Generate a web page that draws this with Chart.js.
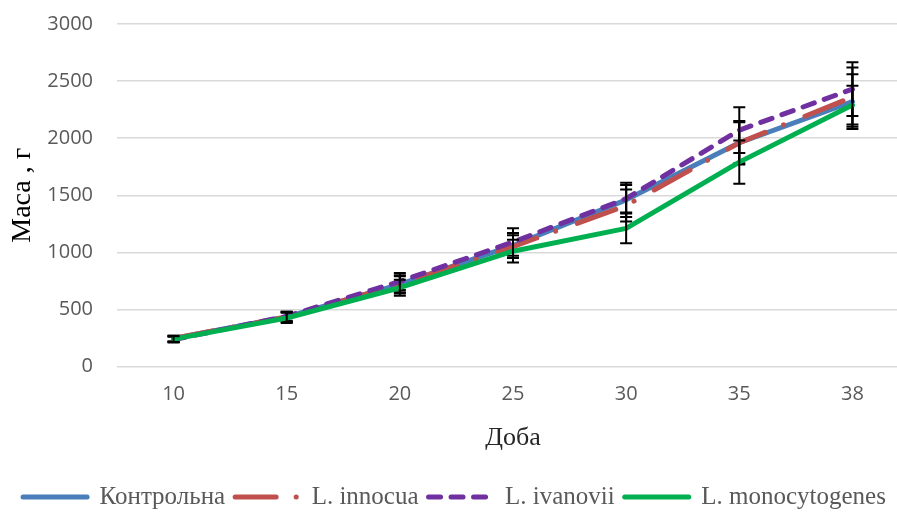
<!DOCTYPE html>
<html>
<head>
<meta charset="utf-8">
<script src="https://cdn.jsdelivr.net/npm/chart.js@4.4.1/dist/chart.umd.min.js"></script>
<style>
    html, body { margin: 0; padding: 0; background: #fff; overflow: hidden; }
    #wrap { width: 917px; height: 515px; }
</style>
</head>
<body>
<div id="wrap"><canvas id="massChart"></canvas></div>
<script>
// days of observation
var days = ['10', '15', '20', '25', '30', '35', '38'];

// mean mass, g
var control = [245, 435, 720, 1060, 1460, 1960, 2320];
var innocua = [245, 435, 720, 1050, 1410, 1960, 2360];
var ivanovii = [235, 440, 745, 1090, 1470, 2070, 2430];
var monocytogenes = [240, 425, 690, 1010, 1210, 1790, 2290];

// +/- error, g
var controlErr = [25, 40, 70, 110, 150, 190, 240];
var innocuaErr = [25, 45, 80, 100, 140, 180, 260];
var ivanoviiErr = [25, 40, 75, 120, 120, 200, 235];
var monocytogenesErr = [25, 45, 70, 100, 130, 190, 170];

var yTicks = [0, 500, 1000, 1500, 2000, 2500, 3000];

var errors = [controlErr, innocuaErr, ivanoviiErr, monocytogenesErr];

// draws the error bars of each series right after the series itself
var errorBars = {
    id: 'errorBars',
    afterDatasetDraw: function(chart, args) {
        var i = args.index;
        var ds = chart.data.datasets[i];
        var err = errors[i];
        var x = chart.scales.x;
        var y = chart.scales.y;
        var ctx = chart.ctx;
        ctx.save();
        ctx.strokeStyle = '#000';
        ctx.lineWidth = 2;
        ctx.setLineDash([]);
        ds.data.forEach(function(v, j) {
            var px = x.getPixelForValue(j);
            var top = y.getPixelForValue(v + err[j]);
            var bot = y.getPixelForValue(v - err[j]);
            ctx.beginPath();
            ctx.moveTo(px, top);
            ctx.lineTo(px, bot);
            ctx.moveTo(px - 6, top);
            ctx.lineTo(px + 6, top);
            ctx.moveTo(px - 6, bot);
            ctx.lineTo(px + 6, bot);
            ctx.stroke();
        });
        ctx.restore();
    }
};

var ctx = document.getElementById('massChart');

var chart = new Chart(ctx, {
    type: 'line',
    data: {
        labels: days,
        datasets: [{
            label: 'Контрольна',
            data: control,
            borderColor: '#4A7EBB',
            backgroundColor: '#4A7EBB',
            borderWidth: 5,
            borderCapStyle: 'round',
            order: 4
        }, {
            label: 'L. innocua',
            data: innocua,
            borderColor: '#C0504D',
            backgroundColor: '#C0504D',
            borderWidth: 5,
            borderCapStyle: 'round',
            borderDash: [41, 20, 0.1, 23],
            order: 3
        }, {
            label: 'L. ivanovii',
            data: ivanovii,
            borderColor: '#7030A0',
            backgroundColor: '#7030A0',
            borderWidth: 5,
            borderCapStyle: 'round',
            borderDash: [12, 10.5],
            order: 2
        }, {
            label: 'L. monocytogenes',
            data: monocytogenes,
            borderColor: '#00B050',
            backgroundColor: '#00B050',
            borderWidth: 5,
            borderCapStyle: 'round',
            order: 1
        }]
    },
    options: {
        responsive: true,
        maintainAspectRatio: false,
        animation: false,
        layout: {
            padding: { top: 24, left: 0, right: 8, bottom: -4.5 }
        },
        elements: {
            point: { radius: 0, hoverRadius: 0 },
            line: { tension: 0, borderJoinStyle: 'round' }
        },
        plugins: {
            tooltip: { enabled: false },
            legend: {
                position: 'bottom',
                labels: {
                    usePointStyle: true,
                    pointStyleWidth: 64,
                    padding: 10,
                    color: '#595959',
                    font: { family: '"Liberation Serif", "Times New Roman", serif', size: 25 },
                    generateLabels: function(chart) {
                        return chart.data.datasets.map(function(ds, i) {
                            return {
                                text: ds.label,
                                strokeStyle: ds.borderColor,
                                fillStyle: ds.borderColor,
                                lineWidth: 5,
                                lineDash: ds.borderDash || [],
                                lineCap: 'round',
                                pointStyle: 'line',
                                rotation: 180,
                                fontColor: '#595959',
                                hidden: false,
                                datasetIndex: i
                            };
                        });
                    }
                }
            }
        },
        scales: {
            x: {
                offset: true,
                grid: { display: false, drawTicks: false },
                border: { display: false },
                ticks: {
                    padding: 16,
                    color: '#595959',
                    font: { family: '"Open Sans", sans-serif', size: 20 }
                },
                title: {
                    display: true,
                    text: 'Доба',
                    color: '#262626',
                    padding: { top: 10, bottom: 21 },
                    font: { family: '"Liberation Serif", "Times New Roman", serif', size: 26 }
                },
                afterFit: function(scale) {
                    scale.height = 108;
                }
            },
            y: {
                min: 0,
                max: 3000,
                afterBuildTicks: function(scale) {
                    scale.ticks = yTicks.map(function(v) { return { value: v }; });
                },
                grid: { color: '#D9D9D9', lineWidth: 1.5, drawTicks: false },
                border: { display: false },
                ticks: {
                    padding: 24,
                    color: '#595959',
                    font: { family: '"Open Sans", sans-serif', size: 20 },
                    callback: function(value) { return String(value); }
                },
                title: {
                    display: true,
                    text: 'Маса , г',
                    color: '#000',
                    padding: { top: 6, bottom: 0 },
                    font: { family: '"Liberation Serif", "Times New Roman", serif', size: 28 }
                },
                afterFit: function(scale) {
                    scale.width = 117;
                    // label padding would otherwise push the plot top down
                    scale.paddingTop = 0;
                }
            }
        }
    },
    plugins: [errorBars]
});
</script>
</body>
</html>
